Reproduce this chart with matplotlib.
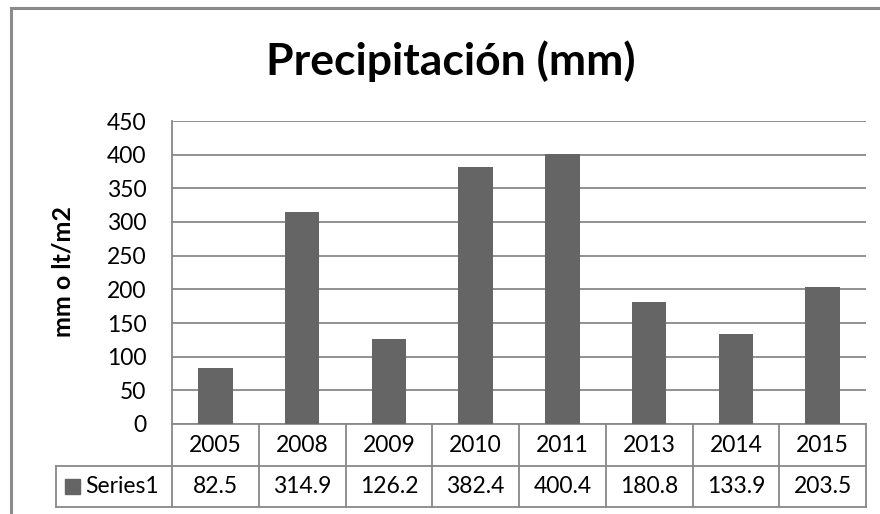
import matplotlib
matplotlib.use("Agg")
import matplotlib.pyplot as plt
from matplotlib.lines import Line2D
from matplotlib.patches import Rectangle

years = ["2005", "2008", "2009", "2010", "2011", "2013", "2014", "2015"]
values = [82.5, 314.9, 126.2, 382.4, 400.4, 180.8, 133.9, 203.5]
value_labels = ["82.5", "314.9", "126.2", "382.4", "400.4", "180.8", "133.9", "203.5"]
series_name = "Series1"
yticks = [0, 50, 100, 150, 200, 250, 300, 350, 400, 450]

FONT = ["Lato", "DejaVu Sans"]
plt.rcParams["font.family"] = FONT

W, H = 880, 514
fig = plt.figure(figsize=(W / 100, H / 100), dpi=100)
fig.patch.set_facecolor("white")

L, R, T, B = 172, 866, 121, 424
ax = fig.add_axes([L / W, (H - B) / H, (R - L) / W, (B - T) / H])

bar_color = "#656565"
grid_color = "#888888"
FS = 16.5

x = list(range(len(years)))
ax.bar(x, values, width=0.4, color=bar_color, zorder=3)
ax.set_xlim(-0.5, len(years) - 0.5)
ax.set_ylim(0, 450)
ax.set_yticks(yticks)
ax.set_yticklabels([str(t) for t in yticks], fontsize=FS)
ax.tick_params(axis="y", length=0, pad=18.5)
ax.set_xticks([])
ax.grid(axis="y", color=grid_color, linewidth=1.3, zorder=0)
for s in ["top", "right", "bottom"]:
    ax.spines[s].set_visible(False)
ax.spines["left"].set_color(grid_color)
ax.spines["left"].set_linewidth(1.3)

fig.text(63 / W, 1 - 272 / H, "mm o lt/m2", rotation=90, ha="center", va="center",
         fontsize=18, fontweight="bold")

# data table below the axes
ph = B - T
pw = R - L
r1 = -(466 - B) / ph
r2 = -(507 - B) / ph
leg_left = (56 - L) / pw
xt = ax.get_xaxis_transform()
lw = 1.3
for i in range(len(years) + 1):
    ax.add_line(Line2D([i - 0.5, i - 0.5], [0, r2], transform=xt, color=grid_color,
                       lw=lw, clip_on=False))
ax.add_line(Line2D([0, 1], [0, 0], transform=ax.transAxes, color=grid_color, lw=lw, clip_on=False))
ax.add_line(Line2D([leg_left, 1], [r1, r1], transform=ax.transAxes, color=grid_color, lw=lw, clip_on=False))
ax.add_line(Line2D([leg_left, 1], [r2, r2], transform=ax.transAxes, color=grid_color, lw=lw, clip_on=False))
ax.add_line(Line2D([leg_left, leg_left], [r1, r2], transform=ax.transAxes, color=grid_color, lw=lw, clip_on=False))

for i, (yr, vl) in enumerate(zip(years, value_labels)):
    ax.text(i, r1 / 2, yr, transform=xt, ha="center", va="center", fontsize=FS, clip_on=False)
    ax.text(i, (r1 + r2) / 2, vl, transform=xt, ha="center", va="center", fontsize=FS, clip_on=False)

# legend key in table
key_w = 15 / pw
key_h = 15 / ph
kx = (65 - L) / pw
ax.add_patch(Rectangle((kx, (r1 + r2) / 2 - key_h / 2), key_w, key_h, transform=ax.transAxes,
                       color=bar_color, clip_on=False))
ax.text((85 - L) / pw, (r1 + r2) / 2, series_name, transform=ax.transAxes, ha="left", va="center",
        fontsize=FS, clip_on=False)

fig.text(451 / W, 1 - 75 / H, "Precipitación (mm)", ha="center", va="baseline",
         fontsize=32, fontweight="bold")

# outer chart border
fig.add_artist(Line2D([11 / W, 11 / W], [0, 1 - 8 / H], transform=fig.transFigure,
                      color="#8a8a8a", lw=2.2))
fig.add_artist(Line2D([11 / W, 1], [1 - 8 / H, 1 - 8 / H], transform=fig.transFigure,
                      color="#8a8a8a", lw=2.2))

fig.savefig("out.png", dpi=100, facecolor="white")
